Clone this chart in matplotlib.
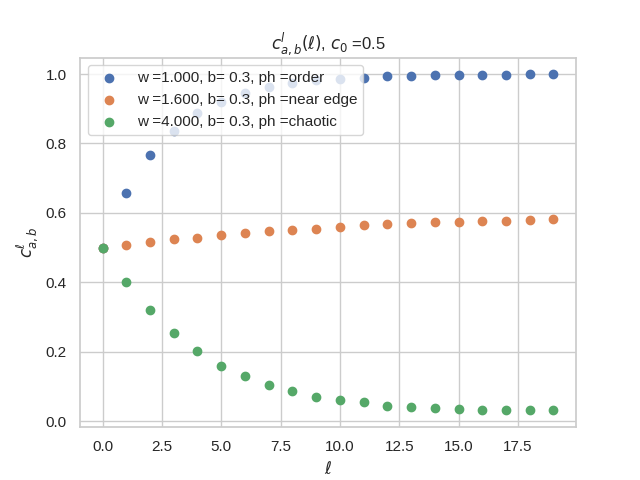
import numpy as np
import matplotlib
matplotlib.use("Agg")
import matplotlib.pyplot as plt
import seaborn as sns

sns.set_theme(style="whitegrid")
plt.rcParams['font.family'] = ['Liberation Sans', 'DejaVu Sans']

# valores
ell = list(range(20))
c_order = [0.5, 0.657, 0.766, 0.835, 0.888, 0.919, 0.946, 0.963, 0.973, 0.983,
           0.985, 0.989, 0.993, 0.995, 0.996, 0.996, 0.996, 0.997, 0.999, 0.999]
c_edge = [0.5, 0.507, 0.515, 0.524, 0.529, 0.536, 0.542, 0.547, 0.552, 0.555,
          0.559, 0.565, 0.568, 0.571, 0.573, 0.573, 0.576, 0.578, 0.579, 0.582]
c_chaos = [0.5, 0.400, 0.320, 0.253, 0.201, 0.158, 0.130, 0.104, 0.086, 0.071,
           0.060, 0.055, 0.045, 0.042, 0.039, 0.036, 0.033, 0.031, 0.031, 0.031]
labels = ["w =1.000, b= 0.3, ph =order",
          "w =1.600, b= 0.3, ph =near edge",
          "w =4.000, b= 0.3, ph =chaotic"]

fig, ax = plt.subplots(figsize=(6.4, 4.8), dpi=100)
for vals, lab in zip([c_order, c_edge, c_chaos], labels):
    ax.scatter(ell, vals, label=lab)

ax.set_title(r"$c^l_{a,b}(\ell)$, $c_0$ =0.5")
ax.set_xlabel(r"$\ell$")
ax.set_ylabel(r"$c^{\ell}_{a,b}$")
ax.legend(loc="upper left")

fig.savefig("out.png")
